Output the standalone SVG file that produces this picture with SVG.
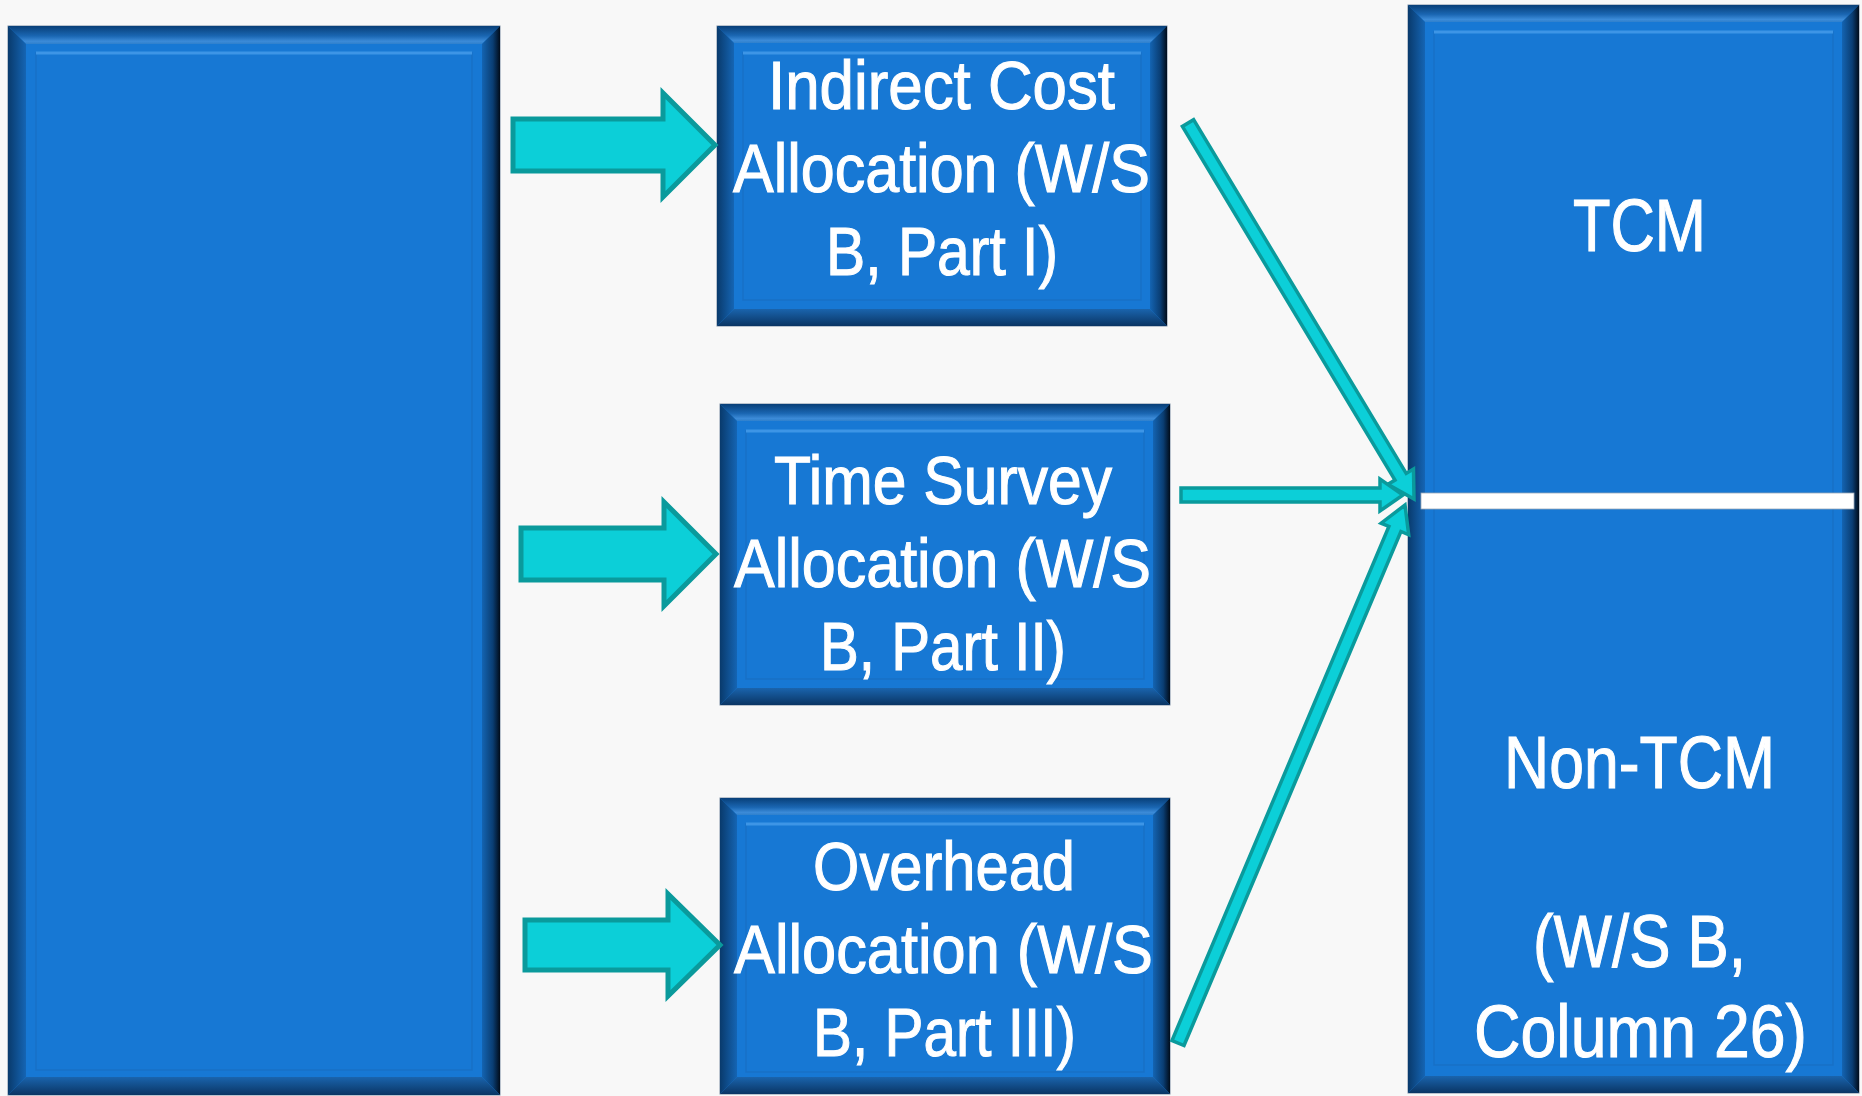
<svg xmlns="http://www.w3.org/2000/svg" width="1862" height="1096" viewBox="0 0 1862 1096">
<defs>
<linearGradient id="gTop" x1="0" y1="0" x2="0" y2="1"><stop offset="0" stop-color="#083f78"/><stop offset="0.55" stop-color="#1a66b2"/><stop offset="0.85" stop-color="#3c8bd8"/><stop offset="1" stop-color="#2f80cc"/></linearGradient>
<linearGradient id="gLeft" x1="0" y1="0" x2="1" y2="0"><stop offset="0" stop-color="#093a6c"/><stop offset="1" stop-color="#1565b4"/></linearGradient>
<linearGradient id="gRight" x1="0" y1="0" x2="1" y2="0"><stop offset="0" stop-color="#1464b2"/><stop offset="0.6" stop-color="#0a3e74"/><stop offset="1" stop-color="#010c1a"/></linearGradient>
<linearGradient id="gBot" x1="0" y1="0" x2="0" y2="1"><stop offset="0" stop-color="#1a64ad"/><stop offset="1" stop-color="#0a3564"/></linearGradient>
<style>
.base{fill:#1778d4;stroke:#7d8ea3;stroke-width:1}
.bt{fill:url(#gTop)}
.bl{fill:url(#gLeft)}
.br{fill:url(#gRight)}
.bb{fill:url(#gBot)}
.inner{fill:none;stroke:#1870c6;stroke-width:1.5}
.hl{stroke:#3d95e6;stroke-width:3}
.blk{fill:#0ccfd8;stroke:#0a9a9c;stroke-width:5;stroke-linejoin:miter}
.thin{fill:#0ccfd8;stroke:#0a9a9c;stroke-width:3.5;stroke-linejoin:miter}
.t{fill:#ffffff;stroke:#ffffff;stroke-width:1.1;font-family:"Liberation Sans Narrow","Liberation Sans",Arial,sans-serif;font-size:68px}
.tr{font-size:74px}
</style>
</defs>
<rect x="0" y="0" width="1862" height="1096" fill="#f8f8f8"/>

<g id="source-box">
<rect class="base" x="8" y="26" width="492" height="1069"/>
<polygon class="bt" points="8,26 500,26 482,44 26,44"/>
<polygon class="bl" points="8,26 26,44 26,1077 8,1095"/>
<polygon class="br" points="500,26 500,1095 482,1077 482,44"/>
<polygon class="bb" points="8,1095 500,1095 482,1077 26,1077"/>
<rect class="inner" x="36" y="53" width="436" height="1017"/>
<line class="hl" x1="36" y1="53" x2="472" y2="53"/>
</g>

<g id="indirect-cost">
<rect class="base" x="717" y="26" width="450" height="300"/>
<polygon class="bt" points="717,26 1167,26 1150,43 734,43"/>
<polygon class="bl" points="717,26 734,43 734,309 717,326"/>
<polygon class="br" points="1167,26 1167,326 1150,309 1150,43"/>
<polygon class="bb" points="717,326 1167,326 1150,309 734,309"/>
<rect class="inner" x="743" y="53" width="398" height="247"/>
<line class="hl" x1="743" y1="53" x2="1141" y2="53"/>
<text class="t" x="768" y="109" textLength="347" lengthAdjust="spacingAndGlyphs">Indirect Cost</text>
<text class="t" x="733" y="192" textLength="417" lengthAdjust="spacingAndGlyphs">Allocation (W/S</text>
<text class="t" x="826" y="275" textLength="232" lengthAdjust="spacingAndGlyphs">B, Part I)</text>
</g>

<g id="time-survey">
<rect class="base" x="720" y="404" width="450" height="301"/>
<polygon class="bt" points="720,404 1170,404 1153,421 737,421"/>
<polygon class="bl" points="720,404 737,421 737,688 720,705"/>
<polygon class="br" points="1170,404 1170,705 1153,688 1153,421"/>
<polygon class="bb" points="720,705 1170,705 1153,688 737,688"/>
<rect class="inner" x="746" y="431" width="398" height="248"/>
<line class="hl" x1="746" y1="431" x2="1144" y2="431"/>
<text class="t" x="774" y="504" textLength="338" lengthAdjust="spacingAndGlyphs">Time Survey</text>
<text class="t" x="734" y="587" textLength="417" lengthAdjust="spacingAndGlyphs">Allocation (W/S</text>
<text class="t" x="820" y="670" textLength="246" lengthAdjust="spacingAndGlyphs">B, Part II)</text>
</g>

<g id="overhead">
<rect class="base" x="720" y="798" width="450" height="296"/>
<polygon class="bt" points="720,798 1170,798 1153,815 737,815"/>
<polygon class="bl" points="720,798 737,815 737,1077 720,1094"/>
<polygon class="br" points="1170,798 1170,1094 1153,1077 1153,815"/>
<polygon class="bb" points="720,1094 1170,1094 1153,1077 737,1077"/>
<rect class="inner" x="746" y="824" width="398" height="248"/>
<line class="hl" x1="746" y1="824" x2="1144" y2="824"/>
<text class="t" x="813" y="890" textLength="262" lengthAdjust="spacingAndGlyphs">Overhead</text>
<text class="t" x="734" y="973" textLength="419" lengthAdjust="spacingAndGlyphs">Allocation (W/S</text>
<text class="t" x="813" y="1056" textLength="263" lengthAdjust="spacingAndGlyphs">B, Part III)</text>
</g>

<g id="tcm">
<rect class="base" x="1408" y="5" width="451" height="1088"/>
<polygon class="bt" points="1408,5 1859,5 1842,22 1425,22"/>
<polygon class="bl" points="1408,5 1425,22 1425,1076 1408,1093"/>
<polygon class="br" points="1859,5 1859,1093 1842,1076 1842,22"/>
<polygon class="bb" points="1408,1093 1859,1093 1842,1076 1425,1076"/>
<rect class="inner" x="1434" y="32" width="399" height="1033"/>
<line class="hl" x1="1434" y1="32" x2="1833" y2="32"/>
<rect x="1421" y="493" width="433" height="16" fill="#ffffff" stroke="#9aa8b8" stroke-width="0.8"/>
<text class="t tr" x="1573" y="251" textLength="133" lengthAdjust="spacingAndGlyphs">TCM</text>
<text class="t tr" x="1504" y="788" textLength="271" lengthAdjust="spacingAndGlyphs">Non-TCM</text>
<text class="t tr" x="1533" y="967" textLength="213" lengthAdjust="spacingAndGlyphs">(W/S B,</text>
<text class="t tr" x="1474" y="1057" textLength="333" lengthAdjust="spacingAndGlyphs">Column 26)</text>
</g>

<g id="connectors">
<polygon class="blk" points="513,119 663,119 663,93 715,145 663,197 663,171 513,171"/>
<polygon class="blk" points="521,528 664,528 664,502 716,554 664,606 664,580 521,580"/>
<polygon class="blk" points="525,920 668,920 668,894 720,945 668,996 668,970 525,970"/>
<polygon class="thin" points="1182.4,126.4 1395.0,480.1 1387.7,484.4 1414,499 1413.5,469.0 1406.2,473.4 1193.6,119.7"/>
<polygon class="thin" points="1181,488 1380,488 1380,479 1403,495 1380,511 1380,502 1181,502"/>
<polygon class="thin" points="1184.0,1045.5 1400.9,531.5 1408.7,534.8 1405,505 1381.1,523.2 1388.9,526.5 1172.0,1040.5"/>
</g>
</svg>
